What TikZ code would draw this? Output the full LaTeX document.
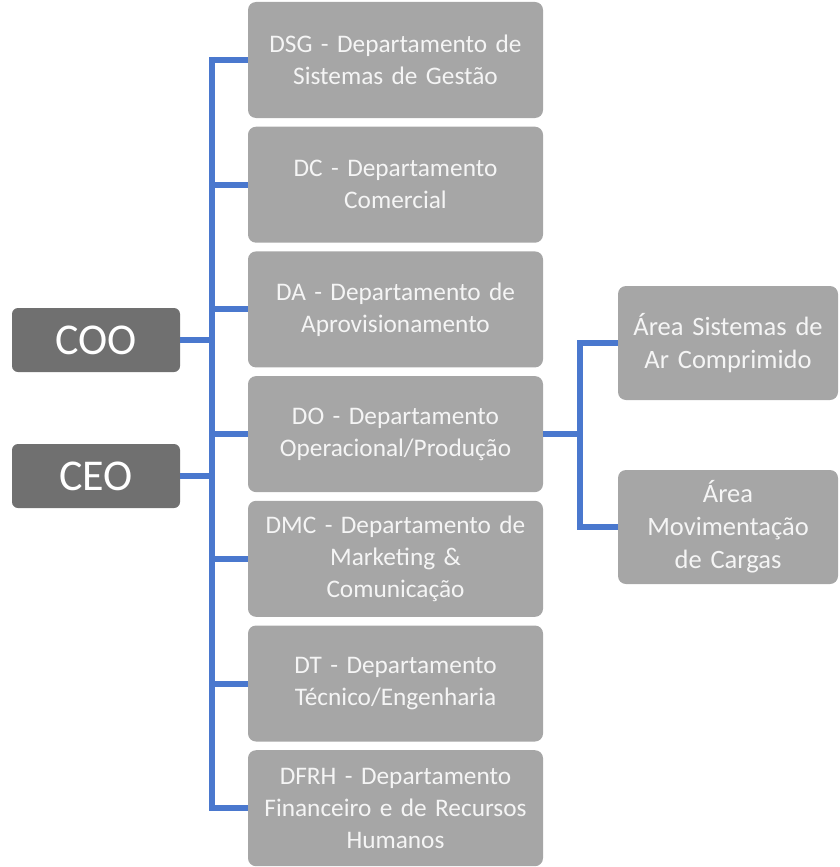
\documentclass[tikz,border=0pt]{standalone}
\usepackage{fontspec}
\setmainfont{Carlito}
\usetikzlibrary{positioning}

\definecolor{boxgray}{RGB}{166,166,166}
\definecolor{chiefgray}{RGB}{112,112,112}
\definecolor{linkblue}{RGB}{74,120,206}
\definecolor{boxtext}{RGB}{245,245,245}

\tikzset{
  dept/.style={rectangle, rounded corners=8pt, fill=boxgray, text=boxtext,
    minimum width=295pt, minimum height=116pt, text width=287pt,
    inner sep=0pt, align=center, font=\fontsize{25.3}{32}\selectfont},
  area/.style={dept, minimum width=220pt, minimum height=114pt, text width=214pt,
    font=\fontsize{26.5}{33}\selectfont},
  chief/.style={rectangle, rounded corners=6pt, fill=chiefgray, text=white,
    minimum width=168pt, minimum height=64pt, inner sep=0pt,
    font=\fontsize{44}{50}\selectfont},
  link/.style={draw=linkblue, line width=6pt}
}

\begin{document}
\begin{tikzpicture}[x=1pt,y=-1pt]
  \useasboundingbox (0,0) rectangle (840,867);

  % departamentos
  \node[dept] (dsg) at (395.5,60) {DSG - Departamento de\\Sistemas de Gestão};
  \node[dept, below=8.3pt of dsg] (dc) {DC - Departamento\\Comercial};
  \node[dept, below=8.3pt of dc] (da) {DA - Departamento de\\Aprovisionamento};
  \node[dept, below=8.3pt of da] (do) {DO - Departamento\\Operacional/Produção};
  \node[dept, below=8.3pt of do] (dmc) {DMC - Departamento de\\Marketing \&\\Comunicação};
  \node[dept, below=8.3pt of dmc] (dt) {DT - Departamento\\Técnico/Engenharia};
  \node[dept, below=8.3pt of dt] (dfrh) {DFRH - Departamento\\Financeiro e de Recursos\\Humanos};

  % direcao
  \node[chief] (coo) at (96,340) {COO};
  \node[chief] (ceo) at (96,476) {CEO};

  % areas do DO
  \node[area] (ar) at (728,343) {Área Sistemas de\\Ar Comprimido};
  \node[area] (cargas) at (728,527) {Área\\Movimentação\\de Cargas};

  % ligacoes
  \coordinate (bus) at (212,0);
  \coordinate (bus2) at (580,0);
  \draw[link] ([yshift=3pt]dsg.west -| bus) -- ([yshift=-3pt]dfrh.west -| bus);
  \foreach \d in {dsg,dc,da,do,dmc,dt,dfrh}
    \draw[link] (\d.west -| bus) -- (\d.west);
  \draw[link] (coo.east) -- (coo.east -| bus);
  \draw[link] (ceo.east) -- (ceo.east -| bus);
  \draw[link] (do.east) -- (do.east -| bus2);
  \draw[link] (ar.west) -| (bus2 |- do.east) |- (cargas.west);
\end{tikzpicture}
\end{document}
